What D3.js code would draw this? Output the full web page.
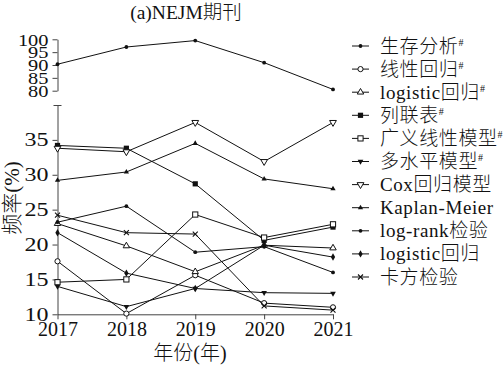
<!DOCTYPE html>
<html><head><meta charset="utf-8">
<script src="https://cdn.jsdelivr.net/npm/d3@7"></script>
<style>
body{margin:0;background:#fff;}
text{font-family:"Liberation Serif","Noto Sans CJK SC",serif;fill:#111;font-weight:300;}
</style></head>
<body><svg id="c" width="503" height="367"></svg>
<script>
const years = [2017, 2018, 2019, 2020, 2021];
const upperTicks = [80, 85, 90, 95, 100];
const lowerTicks = [10, 15, 20, 25, 30, 35, 40];
const seriesNames = ["生存分析", "线性回归", "logistic回归", "列联表", "广义线性模型", "多水平模型", "Cox回归模型", "Kaplan-Meier", "log-rank检验", "logistic回归", "卡方检验"];
const seriesHash = [true, true, true, true, true, true, false, false, false, false, false];
const seriesMarker = ["dot", "circleOpen", "triUpOpen", "square", "squareOpen", "triDown", "triDownOpen", "triUp", "dot", "diamond", "x"];
const survival = [90.3, 97.0, 99.5, 90.9, 80.5];
const linearReg = [17.6, 10.1, 15.6, 11.6, 11.0];
const logisticHash = [23.0, 19.8, 16.1, 19.9, 19.5];
const contingency = [34.2, 33.8, 28.7, 20.6, 22.5];
const glm = [14.6, 15.0, 24.3, 21.0, 22.9];
const multilevel = [14.0, 11.1, 13.7, 13.1, 13.0];
const cox = [33.8, 33.3, 37.5, 31.9, 37.5];
const km = [29.2, 30.4, 34.5, 29.4, 28.0];
const logrank = [23.2, 25.5, 18.9, 19.7, 16.0];
const logistic = [21.7, 15.9, 13.7, 19.9, 18.2];
const chisq = [24.2, 21.7, 21.5, 11.2, 10.6];
const seriesValues = [survival, linearReg, logisticHash, contingency, glm, multilevel, cox, km, logrank, logistic, chisq];

const svg = d3.select("#c");
const x = d3.scaleLinear().domain([2017, 2021]).range([57.5, 333]);
const yUp = d3.scaleLinear().domain([80, 100]).range([90.7, 39.3]);
const yLow = d3.scaleLinear().domain([10, 40]).range([314.3, 105]);
const axisColor = "#444";

function styleAxis(g){
  g.select(".domain").attr("stroke", axisColor).attr("stroke-width", 1);
  g.selectAll(".tick line").attr("stroke", axisColor);
  g.selectAll("text").attr("fill", "#111").attr("font-family", "Liberation Serif");
}

// upper y axis
const gU = svg.append("g").attr("transform", `translate(${x(2017)},0)`)
  .call(d3.axisLeft(yUp).tickValues(upperTicks).tickSize(5).tickSizeOuter(0).tickPadding(4));
styleAxis(gU);
gU.selectAll("text").attr("font-size", 17).attr("dy", "0.34em").each(function(d){
  d3.select(this).attr("textLength", String(d).length * 10.2).attr("lengthAdjust", "spacingAndGlyphs");
});

// lower y axis
const gL = svg.append("g").attr("transform", `translate(${x(2017)},0)`)
  .call(d3.axisLeft(yLow).tickValues(lowerTicks).tickSize(5).tickSizeOuter(0).tickPadding(4)
    .tickFormat(d => d === 40 ? "" : d));
styleAxis(gL);
gL.selectAll("text").attr("font-size", 19).each(function(d){
  if (d !== 40) d3.select(this).attr("textLength", String(d).length * 12).attr("lengthAdjust", "spacingAndGlyphs");
});
gL.selectAll(".tick").filter(d => d === 40).select("line").attr("x1", 4).attr("x2", -4);

// x axis
const gX = svg.append("g").attr("transform", `translate(0,${yLow(10)})`)
  .call(d3.axisBottom(x).tickValues(years).tickFormat(d3.format("d")).tickSize(5).tickSizeOuter(0).tickPadding(3));
styleAxis(gX);
gX.selectAll("text").attr("font-size", 20);

// title & axis titles
svg.append("text").attr("x", 186).attr("y", 19).attr("text-anchor", "middle").attr("font-size", 19.5).text("(a)NEJM期刊");
svg.append("text").attr("x", 190).attr("y", 360).attr("text-anchor", "middle").attr("font-size", 20).text("年份(年)");
svg.append("text").attr("transform", "translate(19,198) rotate(-90)").attr("text-anchor", "middle").attr("font-size", 21).text("频率(%)");

function drawMarker(g, type, cx, cy){
  const s = d3.symbol();
  const col = "#111";
  let el;
  switch(type){
    case "dot": el = g.append("circle").attr("r", 1.9).attr("fill", col); break;
    case "circleOpen": el = g.append("circle").attr("r", 2.6).attr("fill", "#fff").attr("stroke", col).attr("stroke-width", 1); break;
    case "triUpOpen": el = g.append("path").attr("d", s.type(d3.symbolTriangle).size(18)()).attr("fill", "#fff").attr("stroke", col); break;
    case "triUp": el = g.append("path").attr("d", s.type(d3.symbolTriangle).size(12)()).attr("fill", col); break;
    case "square": el = g.append("rect").attr("x", -2.6).attr("y", -2.6).attr("width", 5.2).attr("height", 5.2).attr("fill", col); break;
    case "squareOpen": el = g.append("rect").attr("x", -2.6).attr("y", -2.6).attr("width", 5.2).attr("height", 5.2).attr("fill", "#fff").attr("stroke", col); break;
    case "triDown": el = g.append("path").attr("d", s.type(d3.symbolTriangle).size(14)()).attr("fill", col).attr("data-rot", 1); break;
    case "triDownOpen": el = g.append("path").attr("d", s.type(d3.symbolTriangle).size(20)()).attr("fill", "#fff").attr("stroke", col).attr("data-rot", 1); break;
    case "diamond": el = g.append("path").attr("d", s.type(d3.symbolDiamond).size(16)()).attr("fill", col); break;
    case "x": el = g.append("path").attr("d", "M-2.5,-2.5L2.5,2.5M-2.5,2.5L2.5,-2.5").attr("stroke", col).attr("stroke-width", 1.1).attr("fill", "none"); break;
  }
  const rot = el.attr("data-rot") ? " rotate(180)" : "";
  el.attr("transform", `translate(${cx},${cy})${rot}`);
}

const line = (yS) => d3.line().x((d, i) => x(years[i])).y(d => yS(d));
seriesValues.forEach((vals, si) => {
  const yS = si === 0 ? yUp : yLow;
  const g = svg.append("g");
  g.append("path").datum(vals).attr("d", line(yS)).attr("fill", "none").attr("stroke", "#111").attr("stroke-width", 1);
  vals.forEach((v, i) => drawMarker(g, seriesMarker[si], x(years[i]), yS(v)));
});

// legend
const lg = svg.append("g");
seriesNames.forEach((name, i) => {
  const cy = 46 + i * 23.1;
  lg.append("line").attr("x1", 352).attr("x2", 369).attr("y1", cy).attr("y2", cy).attr("stroke", "#111").attr("stroke-width", 1);
  drawMarker(lg, seriesMarker[i], 360.5, cy);
  const t = lg.append("text").attr("x", 380).attr("y", cy + 6.5).attr("font-size", 19).attr("letter-spacing", 0.6).text(name);
  if (seriesHash[i]) t.append("tspan").attr("font-size", 10).attr("dy", -7).text("#");
});
</script></body></html>
